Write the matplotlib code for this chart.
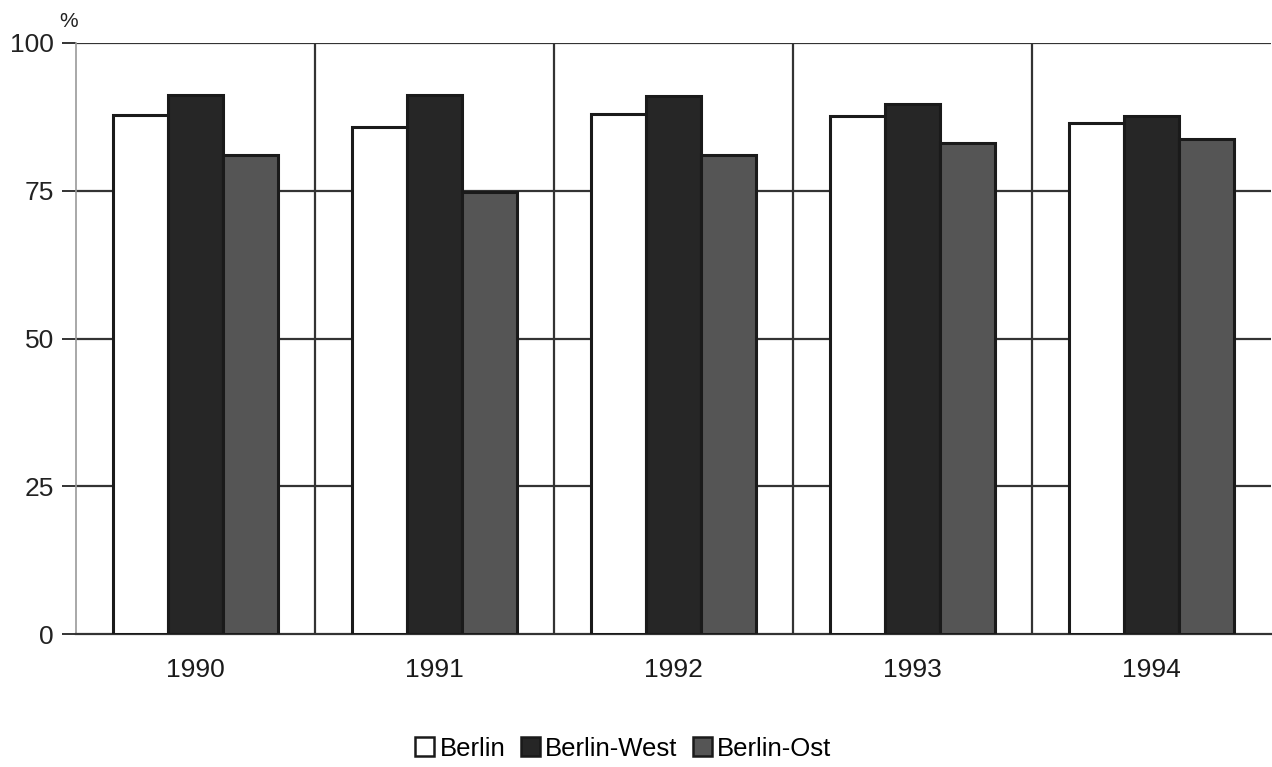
import numpy as np
import matplotlib.pyplot as plt
from matplotlib.patches import Patch

plt.rcParams['font.family'] = ['Liberation Sans', 'DejaVu Sans']

# share in percent per year
years = ['1990', '1991', '1992', '1993', '1994']
berlin = [87.8, 85.8, 88.0, 87.7, 86.4]
berlin_west = [91.2, 91.2, 91.0, 89.6, 87.6]
berlin_ost = [81.1, 74.8, 81.1, 83.0, 83.8]

series = ['Berlin', 'Berlin-West', 'Berlin-Ost']
colors = ['white', '#262626', '#555555']
y_ticks = [0, 25, 50, 75, 100]

fig = plt.figure(figsize=(12.72, 7.67), dpi=100)
ax = fig.add_axes([0.0597, 0.173, 0.9393, 0.771])

x = np.arange(len(years))
w = 0.23
for i, (vals, col) in enumerate(zip([berlin, berlin_west, berlin_ost], colors)):
    ax.bar(x + (i - 1) * w, vals, width=w, color=col, edgecolor='#1a1a1a',
           linewidth=2.2, zorder=3)

# horizontal lines behind the bars, vertical lines between the years
for t in y_ticks[1:]:
    ax.axhline(t, color='#333333', lw=1.6, zorder=1)
for b in np.arange(0.5, len(years) - 0.5):
    ax.axvline(b, color='#333333', lw=1.6, zorder=1)

ax.set_xlim(-0.5, len(years) - 0.5)
ax.set_ylim(0, 100)
ax.set_yticks(y_ticks)
ax.set_yticklabels([str(t) for t in y_ticks], fontsize=19, color='#222222')
ax.set_xticks(x)
ax.set_xticklabels(years, fontsize=19, color='#1a1a1a')
ax.tick_params(axis='y', length=10, width=1.4, color='#333333', pad=6)
ax.tick_params(axis='x', length=0, pad=17)

for s in ['top', 'right']:
    ax.spines[s].set_visible(False)
ax.spines['left'].set_color('#999999')
ax.spines['left'].set_linewidth(1.2)
ax.spines['bottom'].set_color('#333333')
ax.spines['bottom'].set_linewidth(1.6)

ax.text(-0.53, 103.6, '%', fontsize=15, color='#222222', ha='center', va='center')

handles = [Patch(facecolor=c, edgecolor='#1a1a1a', linewidth=1.8) for c in colors]
fig.legend(handles, series, loc='center', bbox_to_anchor=(0.49, 0.024), ncol=3,
           frameon=False, fontsize=18.5, handlelength=0.75, handleheight=0.75,
           handletextpad=0.2, columnspacing=0.6)

fig.savefig('out.png', dpi=100, facecolor='white')
